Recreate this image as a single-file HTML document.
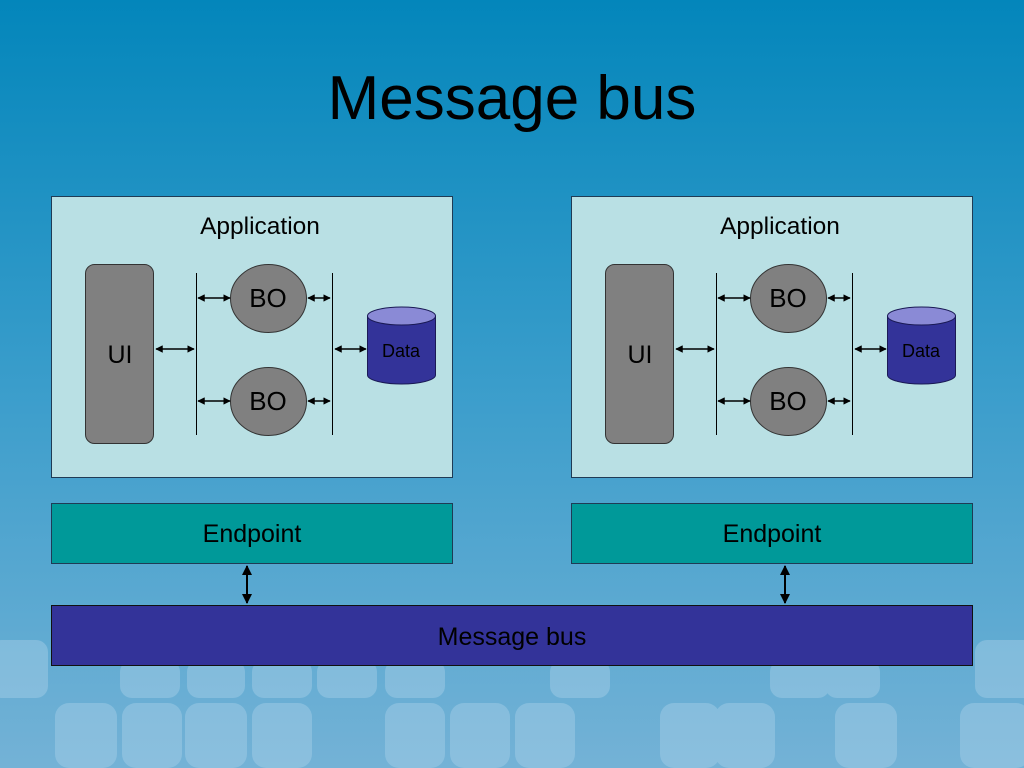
<!DOCTYPE html>
<html><head><meta charset="utf-8"><style>
html,body{margin:0;padding:0;width:1024px;height:768px;overflow:hidden}
svg{display:block;font-family:"Liberation Sans",Arial,sans-serif}
</style></head><body>
<svg width="1024" height="768" viewBox="0 0 1024 768" xmlns="http://www.w3.org/2000/svg">
<defs>
<linearGradient id="bg" x1="0" y1="0" x2="0" y2="1">
<stop offset="0" stop-color="#0386bb"/>
<stop offset="0.5" stop-color="#3a9dcb"/>
<stop offset="1" stop-color="#74b2d6"/>
</linearGradient>
<marker id="ah" viewBox="0 0 10 10" refX="9" refY="5" markerWidth="5" markerHeight="5" orient="auto-start-reverse">
<path d="M0,0 L10,5 L0,10 z" fill="#000"/>
</marker>
<g id="app">
<rect x="51.5" y="196.5" width="401" height="281" fill="#b9e0e4" stroke="#1f3b55" stroke-width="1"/>
<text x="260" y="234" font-size="24.5" text-anchor="middle" fill="#000">Application</text>
<rect x="85.5" y="264.5" width="68" height="179" rx="9" fill="#808080" stroke="#333" stroke-width="1"/>
<text x="120" y="363" font-size="25" text-anchor="middle" fill="#000">UI</text>
<line x1="196.5" y1="273" x2="196.5" y2="435" stroke="#000" stroke-width="1"/>
<line x1="332.5" y1="273" x2="332.5" y2="435" stroke="#000" stroke-width="1"/>
<ellipse cx="268.5" cy="298.5" rx="38" ry="34" fill="#808080" stroke="#333"/>
<ellipse cx="268.5" cy="401.5" rx="38" ry="34" fill="#808080" stroke="#333"/>
<text x="268" y="307" font-size="26" text-anchor="middle" fill="#000">BO</text>
<text x="268" y="410" font-size="26" text-anchor="middle" fill="#000">BO</text>
<g stroke="#000" stroke-width="1.5" marker-start="url(#ah)" marker-end="url(#ah)">
<line x1="198" y1="298" x2="230" y2="298"/>
<line x1="308" y1="298" x2="330" y2="298"/>
<line x1="198" y1="401" x2="230" y2="401"/>
<line x1="308" y1="401" x2="330" y2="401"/>
<line x1="156" y1="349" x2="194" y2="349"/>
<line x1="335" y1="349" x2="366" y2="349"/>
</g>
<path d="M367.5,316 L367.5,375 A34,9 0 0 0 435.5,375 L435.5,316" fill="#333399" stroke="#1a1a55"/>
<ellipse cx="401.5" cy="316" rx="34" ry="9" fill="#8a8ad6" stroke="#1a1a55"/>
<text x="401" y="357" font-size="18" text-anchor="middle" fill="#000">Data</text>
<rect x="51.5" y="503.5" width="401" height="60" fill="#009999" stroke="#1f3b55"/>
<text x="252" y="542" font-size="25" text-anchor="middle" fill="#000">Endpoint</text>
</g>
</defs>
<rect width="1024" height="768" fill="url(#bg)"/>
<g fill="#a8d0e8" opacity="0.45">
<rect x="-10" y="640" width="58" height="58" rx="12"/>
<rect x="120" y="660" width="60" height="38" rx="12"/>
<rect x="187" y="660" width="58" height="38" rx="12"/>
<rect x="252" y="660" width="60" height="38" rx="12"/>
<rect x="317" y="660" width="60" height="38" rx="12"/>
<rect x="385" y="660" width="60" height="38" rx="12"/>
<rect x="550" y="660" width="60" height="38" rx="12"/>
<rect x="770" y="660" width="60" height="38" rx="12"/>
<rect x="825" y="660" width="55" height="38" rx="12"/>
<rect x="975" y="640" width="60" height="58" rx="12"/>
<rect x="55" y="703" width="62" height="65" rx="14"/>
<rect x="122" y="703" width="60" height="65" rx="14"/>
<rect x="185" y="703" width="62" height="65" rx="14"/>
<rect x="252" y="703" width="60" height="65" rx="14"/>
<rect x="385" y="703" width="60" height="65" rx="14"/>
<rect x="450" y="703" width="60" height="65" rx="14"/>
<rect x="515" y="703" width="60" height="65" rx="14"/>
<rect x="660" y="703" width="60" height="65" rx="14"/>
<rect x="715" y="703" width="60" height="65" rx="14"/>
<rect x="835" y="703" width="62" height="65" rx="14"/>
<rect x="960" y="703" width="70" height="65" rx="14"/>
</g>
<text x="512" y="119" font-size="62" text-anchor="middle" fill="#000">Message bus</text>
<use href="#app"/>
<use href="#app" transform="translate(520,0)"/>
<rect x="51.5" y="605.5" width="921" height="60" fill="#333399" stroke="#111"/>
<text x="512" y="645" font-size="25" text-anchor="middle" fill="#000">Message bus</text>
<g stroke="#000" stroke-width="2" marker-start="url(#ah)" marker-end="url(#ah)">
<line x1="247" y1="566" x2="247" y2="603"/>
<line x1="785" y1="566" x2="785" y2="603"/>
</g>
</svg>
</body></html>
